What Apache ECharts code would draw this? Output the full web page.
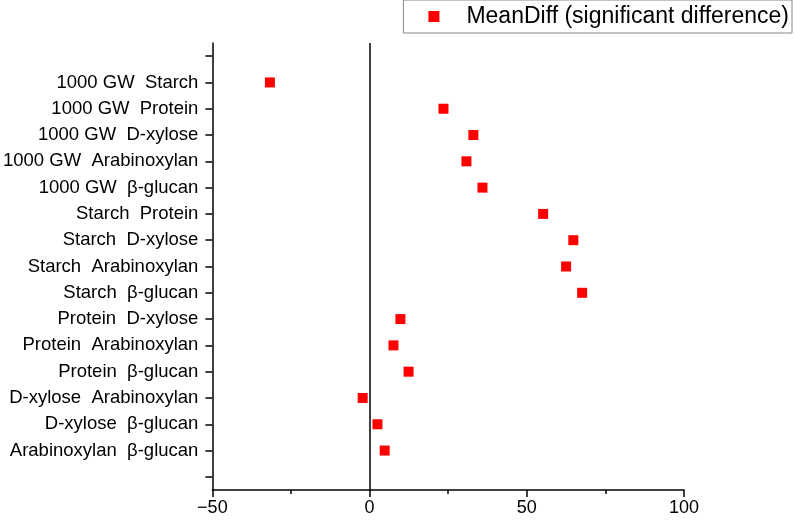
<!DOCTYPE html>
<html>
<head>
<meta charset="utf-8">
<script src="https://cdn.jsdelivr.net/npm/echarts@6/dist/echarts.min.js"></script>
<style>
  html, body { margin: 0; padding: 0; background: #fff; }
  #chart { width: 794px; height: 520px; }
</style>
</head>
<body>
<div id="chart"></div>
<script>
// pairwise comparisons, top to bottom
const pairs = [
  '1000 GW  Starch',
  '1000 GW  Protein',
  '1000 GW  D-xylose',
  '1000 GW  Arabinoxylan',
  '1000 GW  β-glucan',
  'Starch  Protein',
  'Starch  D-xylose',
  'Starch  Arabinoxylan',
  'Starch  β-glucan',
  'Protein  D-xylose',
  'Protein  Arabinoxylan',
  'Protein  β-glucan',
  'D-xylose  Arabinoxylan',
  'D-xylose  β-glucan',
  'Arabinoxylan  β-glucan'
]
const meanDiff = [-31.7, 23.5, 33.0, 30.8, 35.9, 55.2, 64.8, 62.5, 67.6, 9.8, 7.6, 12.4, -2.2, 2.5, 4.8]
const xTicks = [-50, 0, 50, 100]

// empty slots above and below, like the original plot
const cats = [' '].concat(pairs, ['  '])

const chart = echarts.init(document.getElementById('chart'))
const font = 'Liberation Sans, Arial, sans-serif'

chart.setOption({
  animation: false,
  textStyle: { fontFamily: font },
  legend: {
    top: 0,
    right: 2,
    icon: 'rect',
    itemWidth: 11,
    itemHeight: 11,
    padding: [5, 3, 5, 25],
    borderColor: '#888',
    borderWidth: 1,
    borderRadius: 0,
    textStyle: { fontSize: 23, color: '#000', fontFamily: font, padding: [0, 0, 0, 22] },
    data: ['MeanDiff (significant difference)']
  },
  grid: {
    left: 212,
    right: 110,
    top: 43,
    bottom: 30,
    containLabel: false
  },
  xAxis: {
    type: 'value',
    min: xTicks[0],
    max: xTicks[xTicks.length - 1],
    interval: 50,
    axisLine: { show: true, onZero: false, lineStyle: { color: '#000', width: 1.5 } },
    axisTick: { show: true, length: 7, lineStyle: { color: '#000', width: 1.5 } },
    minorTick: { show: true, splitNumber: 2, length: 4, lineStyle: { color: '#000', width: 1.5 } },
    axisLabel: {
      fontSize: 18, color: '#000', fontFamily: font, margin: 9,
      formatter: v => String(v).replace('-', '\u2212')
    },
    splitLine: { show: false }
  },
  yAxis: {
    type: 'category',
    inverse: true,
    data: cats,
    axisLine: { show: true, onZero: false, lineStyle: { color: '#000', width: 1.5 } },
    axisTick: { show: true, alignWithLabel: true, length: 7, lineStyle: { color: '#000', width: 1.5 } },
    axisLabel: { fontSize: 18.5, color: '#000', fontFamily: font, margin: 14, interval: 0 },
    splitLine: { show: false }
  },
  series: [{
    name: 'MeanDiff (significant difference)',
    type: 'scatter',
    symbol: 'rect',
    symbolSize: 10,
    itemStyle: { color: '#ff0000', opacity: 1 },
    data: pairs.map((p, i) => [meanDiff[i], p]),
    markLine: {
      silent: true,
      symbol: 'none',
      label: { show: false },
      lineStyle: { color: '#000', width: 1.5, type: 'solid' },
      data: [{ xAxis: 0 }]
    }
  }]
})
</script>
</body>
</html>
